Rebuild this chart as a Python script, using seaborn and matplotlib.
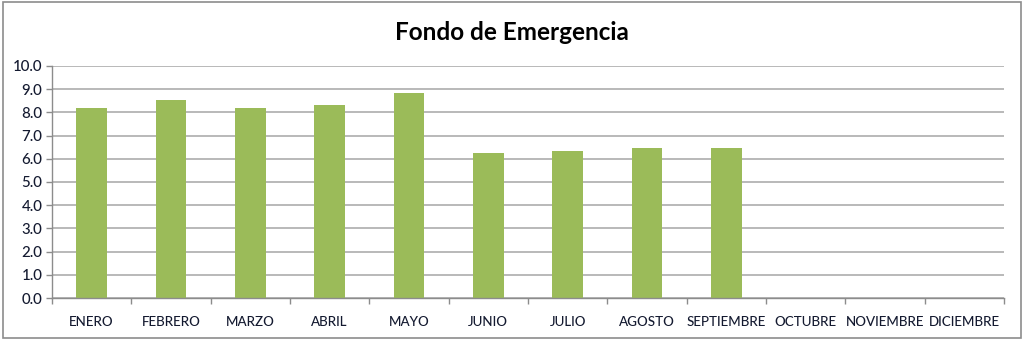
import numpy as np
import pandas as pd
import matplotlib
matplotlib.use("Agg")
import matplotlib.pyplot as plt
from matplotlib.patches import Rectangle
from matplotlib.ticker import FormatStrFormatter, FixedLocator
import seaborn as sns

months = ["ENERO", "FEBRERO", "MARZO", "ABRIL", "MAYO", "JUNIO", "JULIO",
          "AGOSTO", "SEPTIEMBRE", "OCTUBRE", "NOVIEMBRE", "DICIEMBRE"]
values = [8.2, 8.55, 8.2, 8.3, 8.85, 6.25, 6.35, 6.45, 6.45, np.nan, np.nan, np.nan]
title = "Fondo de Emergencia"

sns.set_theme(style="white")
plt.rcParams['font.family'] = ['Lato', 'DejaVu Sans']

df = pd.DataFrame({"mes": months, "valor": values})

fig = plt.figure(figsize=(10.24, 3.39), dpi=100)
ax = fig.add_axes([52/1024, 1 - 298/339, (1004-52)/1024, (298-66)/339])

sns.barplot(data=df, x="mes", y="valor", order=months, color="#9BBB59",
            saturation=1, width=0.39, ax=ax, edgecolor="none")

ax.set_ylim(0, 10)
ax.set_xlim(-0.5, 11.5)
ax.set_yticks(np.arange(0, 10.5, 1.0))
ax.yaxis.set_major_formatter(FormatStrFormatter("%.1f"))
ax.set_axisbelow(True)
ax.yaxis.grid(True, color="#a6a6a6", linewidth=1.1)
ax.xaxis.grid(False)
ax.set_xlabel("")
ax.set_ylabel("")

for s in ["top", "right"]:
    ax.spines[s].set_visible(False)
for s in ["left", "bottom"]:
    ax.spines[s].set_visible(True)
    ax.spines[s].set_color("#8c8c8c")
    ax.spines[s].set_linewidth(1.0)

ax.tick_params(axis="y", which="major", length=4, width=1, color="#8c8c8c",
               labelsize=10.8, labelcolor="#141a30", pad=3, left=True)
ax.tick_params(axis="x", which="major", length=0, labelsize=9.6,
               labelcolor="#141a30", pad=13)
ax.xaxis.set_minor_locator(FixedLocator(np.arange(-0.5, 12, 1.0)))
ax.tick_params(axis="x", which="minor", length=4, width=1, color="#8c8c8c",
               bottom=True)
for lbl in ax.get_xticklabels() + ax.get_yticklabels():
    lbl.set_fontweight("medium")

fig.text(0.5, 1 - 32/339, title, ha="center", va="center",
         fontsize=17.5, fontweight="bold", color="black")

fig.patches.append(Rectangle((2.5/1024, 1 - 338/339), (1021-2.5)/1024, (338-1.5)/339,
                             transform=fig.transFigure, fill=False,
                             edgecolor="#8c8c8c", linewidth=1.2))

fig.savefig("out.png", dpi=100)
